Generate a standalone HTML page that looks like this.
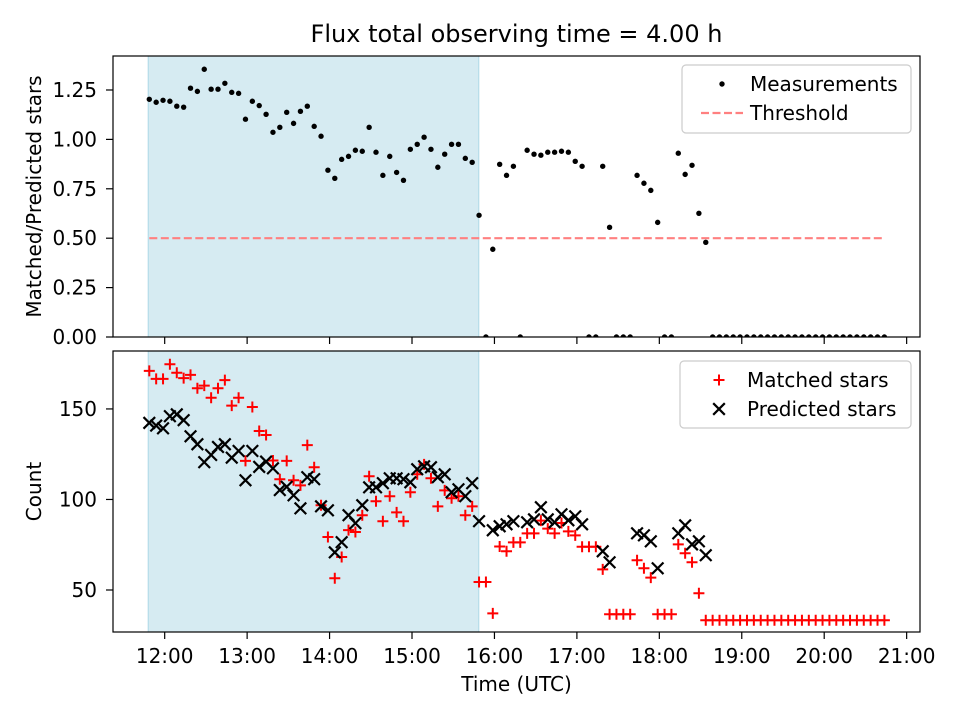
<!DOCTYPE html>
<html><head><meta charset="utf-8"><title>Flux total observing time</title>
<style>
html,body{margin:0;padding:0;background:#fff;}
svg{display:block;font-family:"DejaVu Sans","Liberation Sans",sans-serif;}
</style></head>
<body>
<svg id="chart" width="960" height="720" viewBox="0 0 960 720" xmlns="http://www.w3.org/2000/svg">
<rect width="960" height="720" fill="#fff"/>
<text x="516.5" y="42" font-size="24" text-anchor="middle" fill="#000">Flux total observing time = 4.00 h</text>
<g id="top"></g>
<g id="bot"></g>
</svg>
<script>
// ---- data ----
const startHour = 11.8133;      // first sample time (hours UTC)
const stepMinutes = 5;          // sampling interval
const xTickLabels = ["12:00","13:00","14:00","15:00","16:00","17:00","18:00","19:00","20:00","21:00"];
const xTickHours = [12,13,14,15,16,17,18,19,20,21];
const ratioTicks = [0,0.25,0.5,0.75,1.0,1.25];
const ratioTickLabels = ["0.00","0.25","0.50","0.75","1.00","1.25"];
const countTicks = [50,100,150];
const countTickLabels = ["50","100","150"];
const threshold = [0.5];
const shadeHours = [11.80, 15.81];
const ratio = [1.203,1.188,1.198,1.193,1.168,1.163,1.259,1.243,1.355,1.254,
1.254,1.284,1.238,1.233,1.102,1.193,1.171,1.127,1.036,1.061,
1.137,1.081,1.142,1.168,1.066,1.016,0.844,0.803,0.899,0.914,
0.945,0.940,1.061,0.935,0.818,0.914,0.833,0.793,0.950,0.975,
1.011,0.950,0.859,0.925,0.975,0.975,0.904,0.884,0.616,0,
0.444,0.874,0.818,0.864,0,0.945,0.925,0.920,0.935,0.935,
0.940,0.935,0.889,0.864,0,0,0.864,0.555,0,0,
0,0.818,0.778,0.742,0.580,0,0,0.930,0.823,0.869,
0.626,0.479,0,0,0,0,0,0,0,0,
0,0,0,0,0,0,0,0,0,0,
0,0,0,0,0,0,0,0];
const matched = [171,166.6,166.6,174.7,170,167,168.8,161.4,162.9,156.2,
161.4,165.9,151.8,156.2,121.3,151.1,137.8,135.6,121.5,111.2,
121.3,110.6,107.8,130,117.8,96.8,79.3,56.5,68.2,83.1,
82,91.3,112.8,99,88,101.8,92.9,88,104,113.9,
119.4,111.7,96.2,105,100.7,101.8,91.3,96.2,54.4,54.4,
37.1,74,71.4,76.3,76.3,81.3,81.3,88.3,83.9,81.3,
87,82.4,80.2,73.9,73.9,73.9,61.4,36.6,36.6,36.6,
36.6,66.4,62,56.8,36.6,36.6,36.6,75.2,70.3,65.3,
48.2,33.3,33.3,33.3,33.3,33.3,33.3,33.3,33.3,33.3,
33.3,33.3,33.3,33.3,33.3,33.3,33.3,33.3,33.3,33.3,
33.3,33.3,33.3,33.3,33.3,33.3,33.3,33.3];
const predicted = [142.3,140.8,139.3,146,147,143.8,134.9,130.5,120.6,124.6,
129,130.5,123.1,126.8,110.6,126.8,118,120.9,117.2,105.2,
107,102.3,95.1,112.3,111.2,96.2,94,70.8,76.4,91.3,
86.9,96.8,106.7,106.7,109,111.7,111.7,111.2,109.5,116.7,
118.3,117.8,112.3,113.9,104,105.6,101.8,109,88,null,
83,85.2,86.3,88,null,87.4,89,95.7,89,87.4,
91.8,88.5,90.7,86.3,null,null,71.4,65.3,null,null,
null,81.3,80.2,76.9,62,null,null,81.3,85.7,75.2,
76.9,69.2,null,null,null,null,null,null,null,null,
null,null,null,null,null,null,null,null,null,null,
null,null,null,null,null,null,null,null];

// ---- layout ----
const NS="http://www.w3.org/2000/svg";
const L=113,R=920;
const FS=20;
const topBox={t:56,b:337}, botBox={t:351,b:632};
const xDom=[11.373,21.162];
const rDom=[0,1.422];
const cDom=[26.8,182.0];
function x(h){return L+(h-xDom[0])/(xDom[1]-xDom[0])*(R-L);}
function yR(v){return topBox.b-(v-rDom[0])/(rDom[1]-rDom[0])*(topBox.b-topBox.t);}
function yC(v){return botBox.b-(v-cDom[0])/(cDom[1]-cDom[0])*(botBox.b-botBox.t);}
function hourOf(k){return startHour+k*stepMinutes/60;}
function mk(tag,attrs,parent){const e=document.createElementNS(NS,tag);for(const a in attrs)e.setAttribute(a,attrs[a]);parent.appendChild(e);return e;}

function panel(g,box,yFn,ticks,labels,ylabel,showXLabels){
  const clipId='clip'+box.t;
  const cp=mk('clipPath',{id:clipId},g);
  mk('rect',{x:L,y:box.t,width:R-L,height:box.b-box.t},cp);
  const sh=mk('rect',{x:x(shadeHours[0]),y:box.t,width:x(shadeHours[1])-x(shadeHours[0]),height:box.b-box.t,fill:'#add8e6','fill-opacity':0.5,stroke:'#add8e6','stroke-width':1},g);
  
  
  const plot=mk('g',{'clip-path':'url(#'+clipId+')'},g);
  ticks.forEach((t,i)=>{
    const yy=yFn(t);
    mk('line',{x1:L-7,x2:L,y1:yy,y2:yy,stroke:'#000','stroke-width':1.2},g);
    const tx=mk('text',{x:L-16,y:yy+7,'font-size':FS,'text-anchor':'end'},g);
    tx.textContent=labels[i];
    
    
  });
  xTickHours.forEach((h,i)=>{
    const xx=x(h);
    mk('line',{x1:xx,x2:xx,y1:box.b,y2:box.b+7,stroke:'#000','stroke-width':1.2},g);
    if(showXLabels){
      const tx=mk('text',{x:xx,y:box.b+31,'font-size':FS,'text-anchor':'middle'},g);
      tx.textContent=xTickLabels[i];
      
      
    }
  });
  const cy=(box.t+box.b)/2;
  const yl=mk('text',{x:0,y:0,'font-size':FS,'text-anchor':'middle',transform:'translate(41,'+cy+') rotate(-90)'},g);
  yl.textContent=ylabel;
  
  
  return plot;
}

const topG=document.getElementById('top');
const topPlot=panel(topG,topBox,yR,ratioTicks,ratioTickLabels,'Matched/Predicted stars',false);
const thr=mk('line',{x1:x(hourOf(0)),x2:x(hourOf(ratio.length-1)),y1:yR(threshold[0]),y2:yR(threshold[0]),stroke:'#ff8080','stroke-width':2.2,'stroke-dasharray':'8,3.5'},topPlot);


ratio.forEach((v,k)=>{
  const c=mk('circle',{cx:x(hourOf(k)),cy:yR(v),r:2.7,fill:'#000'},topPlot);
  
  
});
mk('rect',{x:L,y:topBox.t,width:R-L,height:topBox.b-topBox.t,fill:'none',stroke:'#000','stroke-width':1.2},topG);

const botG=document.getElementById('bot');
const botPlot=panel(botG,botBox,yC,countTicks,countTickLabels,'Count',true);
matched.forEach((v,k)=>{
  const cx=x(hourOf(k)),cy=yC(v);
  const p=mk('path',{d:`M${cx-5.5},${cy}H${cx+5.5}M${cx},${cy-5.5}V${cy+5.5}`,stroke:'#ff0000','stroke-width':2,fill:'none'},botPlot);
  
  
});
predicted.forEach((v,k)=>{
  if(v===null)return;
  const cx=x(hourOf(k)),cy=yC(v),s=5.8;
  const p=mk('path',{d:`M${cx-s},${cy-s}L${cx+s},${cy+s}M${cx-s},${cy+s}L${cx+s},${cy-s}`,stroke:'#000','stroke-width':2.2,fill:'none'},botPlot);
  
  
});
mk('rect',{x:L,y:botBox.t,width:R-L,height:botBox.b-botBox.t,fill:'none',stroke:'#000','stroke-width':1.2},botG);
const xl=mk('text',{x:516.5,y:691,'font-size':FS,'text-anchor':'middle'},botG);
xl.textContent='Time (UTC)';



function legend(g,bx,by,bw,bh,items,name,mxOff,txOff){
  const lg=mk('g',{},g);
  
  
  mk('rect',{x:bx,y:by,width:bw,height:bh,rx:4,fill:'#fff','fill-opacity':0.8,stroke:'#cccccc','stroke-width':1.2},lg);
  items.forEach((it,i)=>{
    const yy=by+19+i*29;
    const mx=bx+mxOff;
    if(it.type==='dot')mk('circle',{cx:mx,cy:yy,r:2.7,fill:'#000'},lg);
    if(it.type==='dash')mk('line',{x1:mx-21,x2:mx+21,y1:yy,y2:yy,stroke:'#ff8080','stroke-width':2.2,'stroke-dasharray':'8,3.5'},lg);
    if(it.type==='plus')mk('path',{d:`M${mx-5.5},${yy}H${mx+5.5}M${mx},${yy-5.5}V${yy+5.5}`,stroke:'#ff0000','stroke-width':2},lg);
    if(it.type==='x')mk('path',{d:`M${mx-5.8},${yy-5.8}L${mx+5.8},${yy+5.8}M${mx-5.8},${yy+5.8}L${mx+5.8},${yy-5.8}`,stroke:'#000','stroke-width':2.2},lg);
    const t=mk('text',{x:bx+txOff,y:yy+7,'font-size':FS},lg);
    t.textContent=it.label;
    
    
  });
}
legend(topG,682,65,229,68,[{type:'dot',label:'Measurements'},{type:'dash',label:'Threshold'}],'ratio-legend',40,68);
legend(botG,680,361,231,67,[{type:'plus',label:'Matched stars'},{type:'x',label:'Predicted stars'}],'count-legend',39,67);
</script>
</body></html>
